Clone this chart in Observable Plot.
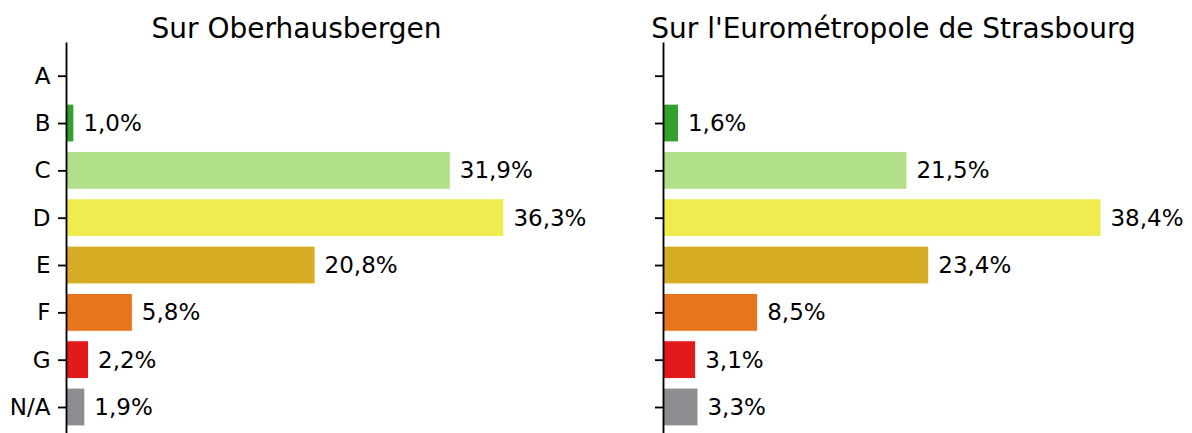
<!DOCTYPE html>
<html>
<head>
<meta charset="utf-8">
<script src="https://cdn.jsdelivr.net/npm/d3@7"></script>
<script src="https://cdn.jsdelivr.net/npm/@observablehq/plot@0.6"></script>
<style>
  body { margin: 0; background: #fff; }
  #chart { position: relative; width: 1192px; height: 433px; overflow: hidden; background: #fff; }
  .panel { position: absolute; top: 0; }
</style>
</head>
<body>
<div id="chart"></div>
<script>
const categories = ["A", "B", "C", "D", "E", "F", "G", "N/A"];
const oberhausbergenValues = [null, 1.0, 31.9, 36.3, 20.8, 5.8, 2.2, 1.9];
const eurometropoleValues = [null, 1.6, 21.5, 38.4, 23.4, 8.5, 3.1, 3.3];
const categoryColors = ["#ffffff", "#33a02c", "#b2df8a", "#eeec4e", "#d6ac25", "#e8741e", "#e31a1c", "#8c8d91"];
const panelTitles = ["Sur Oberhausbergen", "Sur l'Eurométropole de Strasbourg"];

const fmt = v => v.toFixed(1).replace(".", ",") + "%";

function panel(values, title, showLabels, left, marginLeft, marginRight, zeroPx) {
  const W = 596;
  const rows = categories.map((c, i) => ({cat: c, value: values[i], color: categoryColors[i]}))
    .filter(d => d.value != null);
  const xmax = d3.max(values) * 1.05;
  const svg = Plot.plot({
    width: W,
    height: 433,
    marginLeft,
    marginRight,
    marginTop: 43,
    marginBottom: 0,
    style: {fontFamily: "DejaVu Sans", fontSize: "23px", color: "black", background: "white"},
    x: {domain: [0, xmax], range: [zeroPx, W - marginRight], axis: null},
    y: {domain: categories, range: [47.3, 435.4], padding: 0.2, round: false, label: null},
    marks: [
      Plot.barX(rows, {x: "value", y: "cat", fill: "color", stroke: "white", strokeWidth: 1, clip: "frame"}),
      Plot.text(rows, {x: "value", y: "cat", text: d => fmt(d.value), textAnchor: "start", dx: 9, fontSize: 23, fill: "black"}),
      Plot.frame({anchor: "left", stroke: "black", strokeWidth: 1.85}),
      showLabels
        ? Plot.axisY({tickSize: 8, tickPadding: 8, strokeWidth: 1.85, fontSize: 23, label: null, stroke: "black", fill: "black"})
        : Plot.axisY({tickSize: 8, strokeWidth: 1.85, label: null, stroke: "black", fill: "none"}),
      Plot.text([title], {frameAnchor: "top", text: d => d, lineAnchor: "bottom", dy: -6, fontSize: 28, fill: "black"})
    ]
  });
  svg.classList.add("panel");
  svg.style.left = left + "px";
  document.getElementById("chart").appendChild(svg);
}

panel(oberhausbergenValues, panelTitles[0], true, 0, 66, 70, 61.7);
panel(eurometropoleValues, panelTitles[1], false, 596, 67, 69, 64.1);
</script>
</body>
</html>
